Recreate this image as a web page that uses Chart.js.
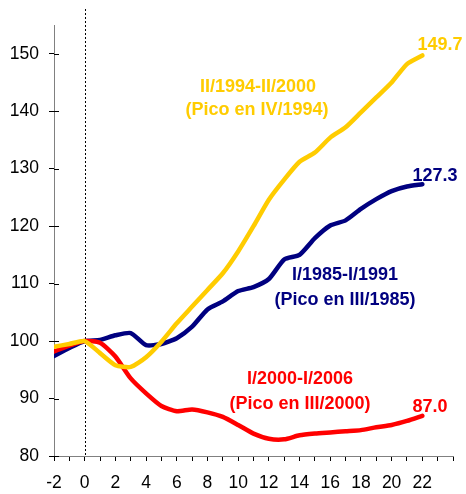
<!DOCTYPE html>
<html lang="es">
<head>
    <meta charset="UTF-8">
    <title>Ciclos</title>
    <script src="https://cdn.jsdelivr.net/npm/chart.js"></script>
    <style>
        body { margin: 0; background: #fff; }
    </style>
</head>
<body>
    <canvas id="chart" width="466" height="494"></canvas>

    <script>
        // trimestres desde el pico
        const quarters = [-2, -1, 0, 1, 2, 3, 4, 5, 6, 7, 8, 9, 10, 11, 12, 13, 14, 15, 16, 17, 18, 19, 20, 21, 22];

        // I/1985-I/1991 (Pico en III/1985)
        const serie1985 = [97.4, 98.8, 100, 100.2, 101.0, 101.4, 99.3, 99.5, 100.5, 102.5, 105.5, 106.9, 108.7,
            109.4, 110.8, 114.2, 115.0, 117.9, 120.1, 121.0, 123.0, 124.7, 126.1, 126.9, 127.3];
        // II/1994-II/2000 (Pico en IV/1994)
        const serie1994 = [99.0, 99.5, 100, 97.9, 95.8, 95.5, 97.2, 99.9, 103.1, 106.0, 108.9, 111.8, 115.6,
            120.0, 124.6, 128.1, 131.2, 132.8, 135.4, 137.2, 139.8, 142.4, 145.0, 148.2, 149.7];
        // I/2000-I/2006 (Pico en III/2000)
        const serie2000 = [98.2, 99.2, 100, 99.7, 97.3, 93.5, 90.9, 88.7, 87.8, 88.1, 87.6, 86.8, 85.4,
            83.9, 83.0, 82.9, 83.6, 83.9, 84.1, 84.3, 84.5, 85.0, 85.4, 86.1, 87.0];

        const xTickLabels = ['-2', '0', '2', '4', '6', '8', '10', '12', '14', '16', '18', '20', '22'];
        const yTickLabels = ['80', '90', '100', '110', '120', '130', '140', '150'];

        const FONT = '"Liberation Sans", Arial, sans-serif';
        const AMARILLO = '#FFCC00';
        const AZUL = '#000080';
        const ROJO = '#FF0000';

        const toPoints = arr => arr.map((v, i) => ({ x: quarters[i], y: v }));

        // textos sobre el grafico
        const notes = [
            { text: 'II/1994-II/2000', x: 258, y: 87, color: AMARILLO },
            { text: '(Pico en IV/1994)', x: 257, y: 110, color: AMARILLO },
            { text: 'I/1985-I/1991', x: 345, y: 275, color: AZUL },
            { text: '(Pico en III/1985)', x: 345, y: 300, color: AZUL },
            { text: 'I/2000-I/2006', x: 300, y: 379, color: ROJO },
            { text: '(Pico en III/2000)', x: 300, y: 404, color: ROJO },
            { text: serie1994[serie1994.length - 1].toFixed(1), x: 440, y: 45, color: AMARILLO },
            { text: serie1985[serie1985.length - 1].toFixed(1), x: 435, y: 176, color: AZUL },
            { text: serie2000[serie2000.length - 1].toFixed(1), x: 430, y: 407, color: ROJO }
        ];

        const extras = {
            id: 'extras',
            beforeDatasetsDraw(chart) {
                const ctx = chart.ctx;
                const x = chart.scales.x;
                const y = chart.scales.y;
                // linea punteada en el pico
                const px = Math.round(x.getPixelForValue(0)) + 0.5;
                ctx.save();
                ctx.strokeStyle = '#000';
                ctx.lineWidth = 1;
                ctx.setLineDash([2, 2]);
                ctx.beginPath();
                ctx.moveTo(px, 9);
                ctx.lineTo(px, chart.chartArea.bottom);
                ctx.stroke();
                ctx.setLineDash([]);
                // marcas del eje y hacia dentro
                y.ticks.forEach(t => {
                    const py = Math.round(y.getPixelForValue(t.value)) + 0.5;
                    ctx.beginPath();
                    ctx.moveTo(chart.chartArea.left, py);
                    ctx.lineTo(chart.chartArea.left + 5, py);
                    ctx.stroke();
                });
                ctx.restore();
            },
            afterDatasetsDraw(chart) {
                const ctx = chart.ctx;
                ctx.save();
                ctx.font = 'bold 18px ' + FONT;
                ctx.textAlign = 'center';
                ctx.textBaseline = 'middle';
                notes.forEach(n => {
                    ctx.fillStyle = n.color;
                    ctx.fillText(n.text, n.x, n.y);
                });
                ctx.restore();
            }
        };

        const lineStyle = {
            borderWidth: 4.5,
            pointRadius: 0,
            tension: 0.2,
            borderCapStyle: 'round',
            borderJoinStyle: 'round',
            fill: false
        };

        new Chart(document.getElementById('chart').getContext('2d'), {
            type: 'line',
            data: {
                datasets: [
                    Object.assign({ label: 'I/1985-I/1991', data: toPoints(serie1985), borderColor: AZUL, order: 2 }, lineStyle),
                    Object.assign({ label: 'I/2000-I/2006', data: toPoints(serie2000), borderColor: ROJO, order: 1 }, lineStyle),
                    Object.assign({ label: 'II/1994-II/2000', data: toPoints(serie1994), borderColor: AMARILLO, order: 0 }, lineStyle)
                ]
            },
            options: {
                responsive: false,
                animation: false,
                layout: { padding: { top: 25, right: 13, left: 0, bottom: 0 } },
                plugins: {
                    legend: { display: false },
                    tooltip: { enabled: false }
                },
                scales: {
                    x: {
                        type: 'linear',
                        min: -2,
                        max: 24,
                        afterFit: s => { s.height = 38; },
                        border: { display: true, color: '#808080', width: 1 },
                        grid: { drawOnChartArea: false, drawTicks: true, tickLength: 5, color: '#000' },
                        ticks: {
                            stepSize: 1,
                            autoSkip: false,
                            maxRotation: 0,
                            padding: 12,
                            color: '#000',
                            font: { family: FONT, size: 17.5 },
                            callback: v => xTickLabels.includes(String(v)) ? String(v) : ''
                        }
                    },
                    y: {
                        min: 80,
                        max: 155,
                        afterFit: s => { s.width = 54; },
                        afterBuildTicks: s => { s.ticks = s.ticks.filter(t => yTickLabels.includes(String(t.value))); },
                        border: { display: true, color: '#808080', width: 1 },
                        grid: { drawOnChartArea: false, drawTicks: true, tickLength: 5, color: '#000' },
                        ticks: {
                            stepSize: 10,
                            padding: 10,
                            color: '#000',
                            font: { family: FONT, size: 17.5 }
                        }
                    }
                }
            },
            plugins: [extras]
        });
    </script>
</body>
</html>
